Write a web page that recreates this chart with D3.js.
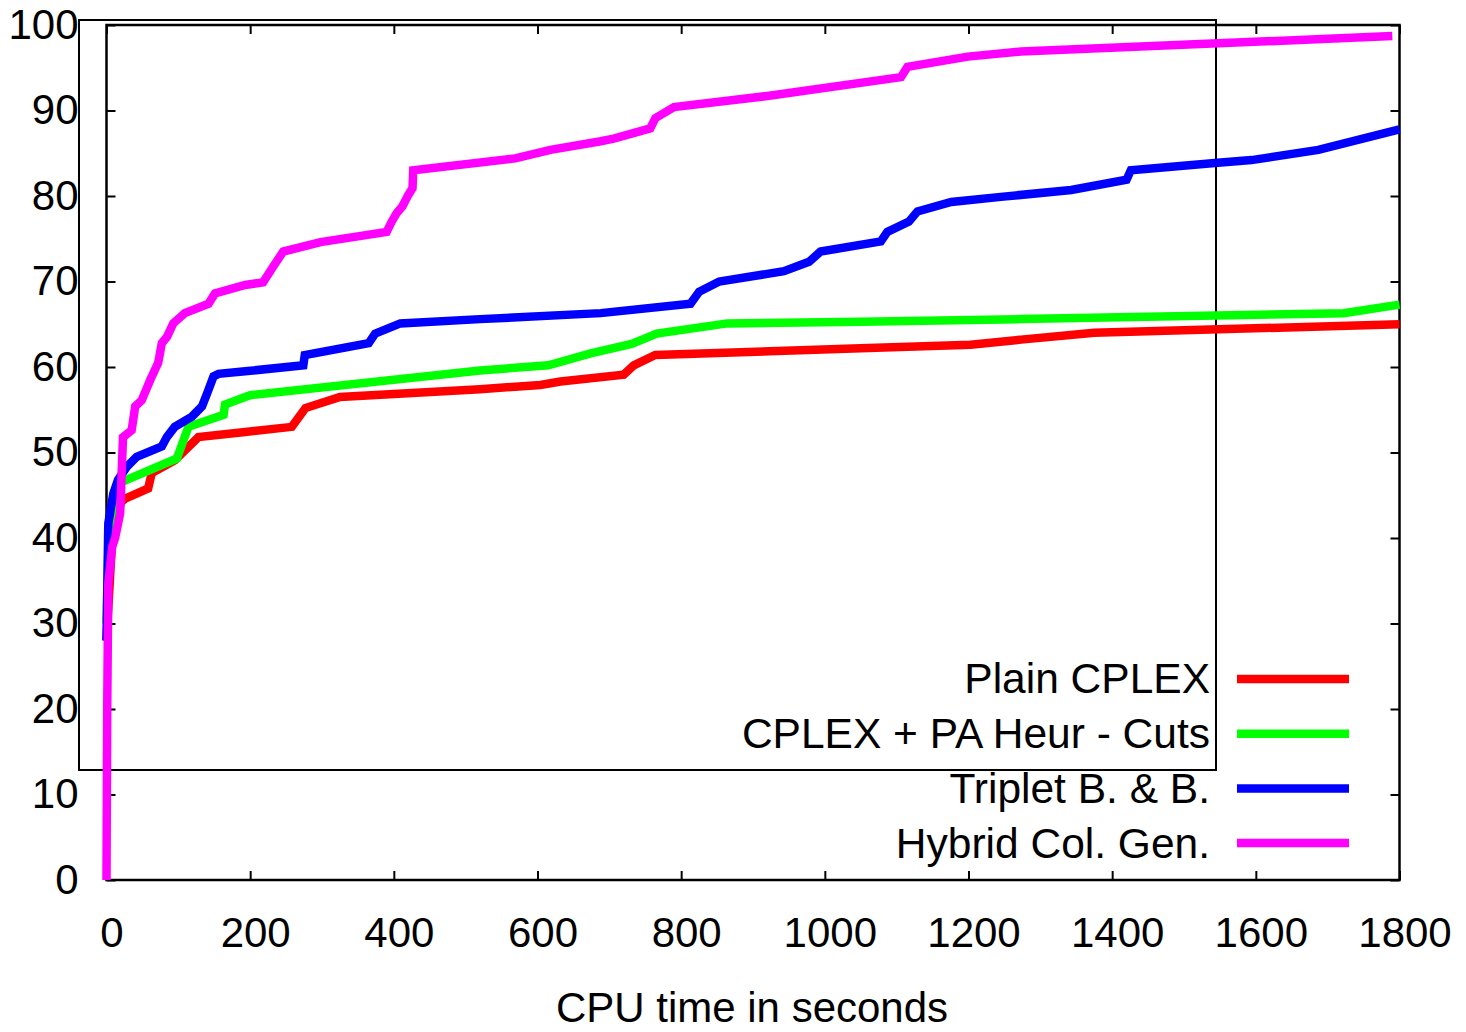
<!DOCTYPE html>
<html>
<head>
<meta charset="utf-8">
<script src="https://cdn.jsdelivr.net/npm/d3@7"></script>
<style>
  body { margin: 0; background: #fff; }
  text { font-family: "Liberation Sans", Arial, sans-serif; fill: #000; }
</style>
</head>
<body>
<div id="chart"></div>
<script>
// series: [cpu seconds, percent solved]
const plainCplex = [
  [0, 28], [8, 40], [20, 44.2], [26, 44.6], [58, 45.8], [63, 47.6], [95, 49.1],
  [128, 51.8], [193, 52.4], [258, 53], [277, 55.2], [325, 56.5], [520, 57.4],
  [604, 57.9], [632, 58.3], [720, 59.1], [734, 60.2], [764, 61.4], [1050, 62.2],
  [1203, 62.6], [1273, 63.2], [1375, 64], [1800, 65]
];
const paHeurCuts = [
  [0, 30], [3, 40], [15, 46.3], [28, 46.8], [98, 49.3], [114, 53], [163, 54.4],
  [165, 55.6], [193, 56.5], [200, 56.7], [520, 59.6], [615, 60.2], [674, 61.6],
  [731, 62.7], [766, 63.9], [864, 65.1], [1050, 65.3], [1273, 65.6],
  [1722, 66.3], [1800, 67.3]
];
const tripletBB = [
  [0, 28], [2.5, 41.7], [9.5, 45.2], [16, 46.8], [28, 48.3], [42, 49.5],
  [77, 50.7], [84, 51.8], [95, 53], [119, 54.2], [133, 55.4], [140, 56.9],
  [149, 58.9], [156, 59.2], [193, 59.5], [274, 60.2], [276, 61.4], [365, 62.8],
  [374, 63.9], [409, 65.1], [520, 65.6], [688, 66.3], [813, 67.4], [825, 68.8],
  [853, 70], [943, 71.2], [978, 72.3], [994, 73.5], [1078, 74.7], [1087, 75.8],
  [1117, 77], [1129, 78.2], [1176, 79.3], [1245, 79.9], [1343, 80.7],
  [1420, 81.9], [1426, 83], [1547, 83.9], [1594, 84.2], [1687, 85.4], [1800, 87.8]
];
const hybridColGen = [
  [0, 0], [1, 20], [2.5, 34.7], [8, 39], [12, 40], [19, 42.9], [23, 51.8],
  [35, 52.6], [40, 55.4], [49, 56.1], [61, 58.5], [72, 60.5], [77, 62.8],
  [84, 63.5], [93, 65.1], [109, 66.3], [142, 67.4], [151, 68.6], [193, 69.6],
  [218, 69.9], [231, 71.6], [246, 73.5], [298, 74.6], [390, 75.8], [397, 77],
  [404, 78], [412, 78.8], [420, 80.1], [426, 80.9], [427, 83], [569, 84.4],
  [618, 85.4], [688, 86.4], [706, 86.7], [757, 87.9], [764, 89.1], [790, 90.4],
  [920, 91.7], [1106, 93.9], [1115, 95.1], [1199, 96.3], [1273, 96.9],
  [1790, 98.7]
];

const seriesNames = ['Plain CPLEX', 'CPLEX + PA Heur - Cuts', 'Triplet B. & B.', 'Hybrid Col. Gen.'];
const seriesColors = ['#ff0000', '#00ff00', '#0000ff', '#ff00ff'];
const allSeries = [plainCplex, paHeurCuts, tripletBB, hybridColGen];

const xTicks = [0, 200, 400, 600, 800, 1000, 1200, 1400, 1600, 1800];
const yTicks = [0, 10, 20, 30, 40, 50, 60, 70, 80, 90, 100];
const xLabel = 'CPU time in seconds';

const width = 1466, height = 1032;
const plot = { left: 106.5, right: 1399.5, top: 25, bottom: 880 };

const svg = d3.select('#chart').append('svg')
  .attr('width', width)
  .attr('height', height);

const x = d3.scaleLinear().domain([0, 1800]).range([plot.left, plot.right]);
const y = d3.scaleLinear().domain([0, 100]).range([plot.bottom, plot.top]);
const fmt = d3.format('d');

// axes with inward ticks on all four sides
const axisStyle = g => {
  g.select('.domain').remove();
  g.selectAll('.tick line').attr('stroke', '#000').attr('stroke-width', 2);
  g.selectAll('.tick text').style('font-size', '42px').attr('fill', '#000');
};

svg.append('g')
  .attr('transform', 'translate(0,' + plot.bottom + ')')
  .call(d3.axisBottom(x).tickValues(xTicks).tickFormat(fmt).tickSizeInner(-9).tickSizeOuter(0).tickPadding(37))
  .call(axisStyle)
  .selectAll('.tick text').attr('dx', 5);

svg.append('g')
  .attr('transform', 'translate(0,' + plot.top + ')')
  .call(d3.axisTop(x).tickValues(xTicks).tickSizeInner(-9).tickSizeOuter(0).tickFormat(''))
  .call(axisStyle);

svg.append('g')
  .attr('transform', 'translate(' + plot.left + ',0)')
  .call(d3.axisLeft(y).tickValues(yTicks).tickFormat(fmt).tickSizeInner(-9).tickSizeOuter(0).tickPadding(28))
  .call(axisStyle);

svg.append('g')
  .attr('transform', 'translate(' + plot.right + ',0)')
  .call(d3.axisRight(y).tickValues(yTicks).tickSizeInner(-9).tickSizeOuter(0).tickFormat(''))
  .call(axisStyle);

// plot frame
svg.append('rect')
  .attr('x', plot.left).attr('y', plot.top)
  .attr('width', plot.right - plot.left).attr('height', plot.bottom - plot.top)
  .attr('fill', 'none').attr('stroke', '#000').attr('stroke-width', 2.5);

// stray box from the original output
svg.append('rect')
  .attr('x', 79).attr('y', 20)
  .attr('width', 1137).attr('height', 750)
  .attr('fill', 'none').attr('stroke', '#000').attr('stroke-width', 2);

const line = d3.line()
  .x(d => x(d[0]))
  .y(d => y(d[1]));

svg.append('g').selectAll('path')
  .data(allSeries)
  .enter()
  .append('path')
  .attr('d', d => line(d))
  .attr('fill', 'none')
  .attr('stroke', (d, i) => seriesColors[i])
  .attr('stroke-width', 8.5)
  .attr('stroke-linejoin', 'miter');

// legend
const legend = svg.append('g');
seriesNames.forEach((name, i) => {
  const cy = 679 + i * 54.7;
  legend.append('text')
    .attr('x', 1210).attr('y', cy)
    .attr('dy', '0.34em')
    .attr('text-anchor', 'end')
    .style('font-size', '42.5px')
    .text(name);
  legend.append('line')
    .attr('x1', 1237).attr('x2', 1349)
    .attr('y1', cy).attr('y2', cy)
    .attr('stroke', seriesColors[i])
    .attr('stroke-width', 8.5);
});

svg.append('text')
  .attr('x', 752).attr('y', 1022)
  .attr('text-anchor', 'middle')
  .style('font-size', '42px')
  .text(xLabel);
</script>
</body>
</html>
